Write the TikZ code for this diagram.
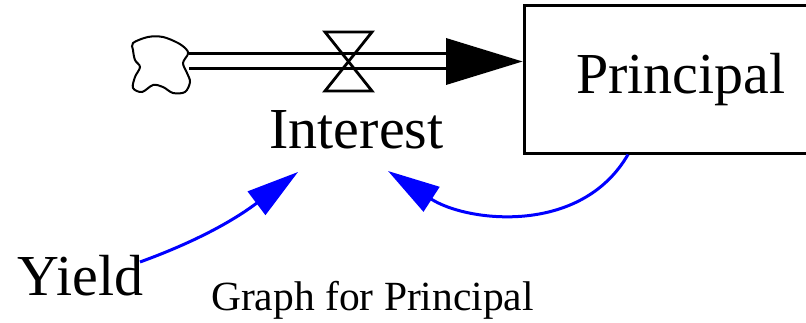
\documentclass[tikz,border=0pt]{standalone}
\usepackage{fontspec}
\setmainfont{Liberation Serif}
\usetikzlibrary{arrows.meta}
\definecolor{linkblue}{RGB}{0,0,255}
\tikzset{
  bigtext/.style={font=\fontsize{58}{60}\selectfont, inner sep=0pt},
  smalltext/.style={font=\fontsize{41.5}{44}\selectfont, inner sep=0pt},
  stockbox/.style={draw=black, line width=3pt, minimum width=314pt, minimum height=147pt,
    inner sep=0pt, font=\fontsize{58}{60}\selectfont},
  pipeline/.style={line width=3pt, black},
  valveshape/.style={line width=2.8pt, black, line join=miter},
  cloudline/.style={line width=2pt, black},
  link/.style={line width=3pt, linkblue, -{Triangle[length=52pt,width=29pt]}},
}
\begin{document}
\begin{tikzpicture}[x=1pt,y=1pt]
\useasboundingbox (0,0) rectangle (806,322);
% stock
\node[stockbox] (principal) at (681,242.5) {Principal};
% source cloud
\draw[cloudline] plot[smooth cycle, tension=0.55] coordinates {
  (133,279) (148,285) (163,285) (178,279) (186,273) (188,268)
  (183,259) (187,249) (190,240) (185,230) (173,229) (163,235)
  (153,237) (142,230) (133,234) (135,245) (140,255) (135,262) (133,272)};
\coordinate (src) at (189,260.5);
% pipe
\coordinate (tip) at ([yshift=18pt]principal.west);
\draw[pipeline] ([yshift=7.5pt]src) -- ([yshift=7.5pt]tip -| 446,0);
\draw[pipeline] ([yshift=-7.5pt]src) -- ([yshift=-7.5pt]tip -| 446,0);
\fill[black] ([yshift=23.5pt]tip -| 446,0) -- (tip) -- ([yshift=-23.5pt]tip -| 446,0) -- cycle;
% valve
\coordinate (valve) at (348.5,260.5);
\draw[valveshape] ([shift={(-23.5pt,29.5pt)}]valve) -- ([shift={(23.5pt,29.5pt)}]valve)
  -- ([shift={(-23.5pt,-29.5pt)}]valve) -- ([shift={(23.5pt,-29.5pt)}]valve) -- cycle;
% labels
\node[bigtext, anchor=base] (interest) at (356.5,174) {Interest};
\node[bigtext, anchor=base] (yield) at (80.5,27) {Yield};
\node[smalltext, anchor=base] (graph) at (372.5,12) {Graph for Principal};
% links
\draw[link] ([shift={(59.5pt,33pt)}]yield.base) to[out=20,in=217] ([shift={(-58.5pt,-24pt)}]interest.base);
\draw[link] ([xshift=-53pt]principal.south) to[out=240,in=-33] ([shift={(31.5pt,-23pt)}]interest.base);
\end{tikzpicture}
\end{document}
